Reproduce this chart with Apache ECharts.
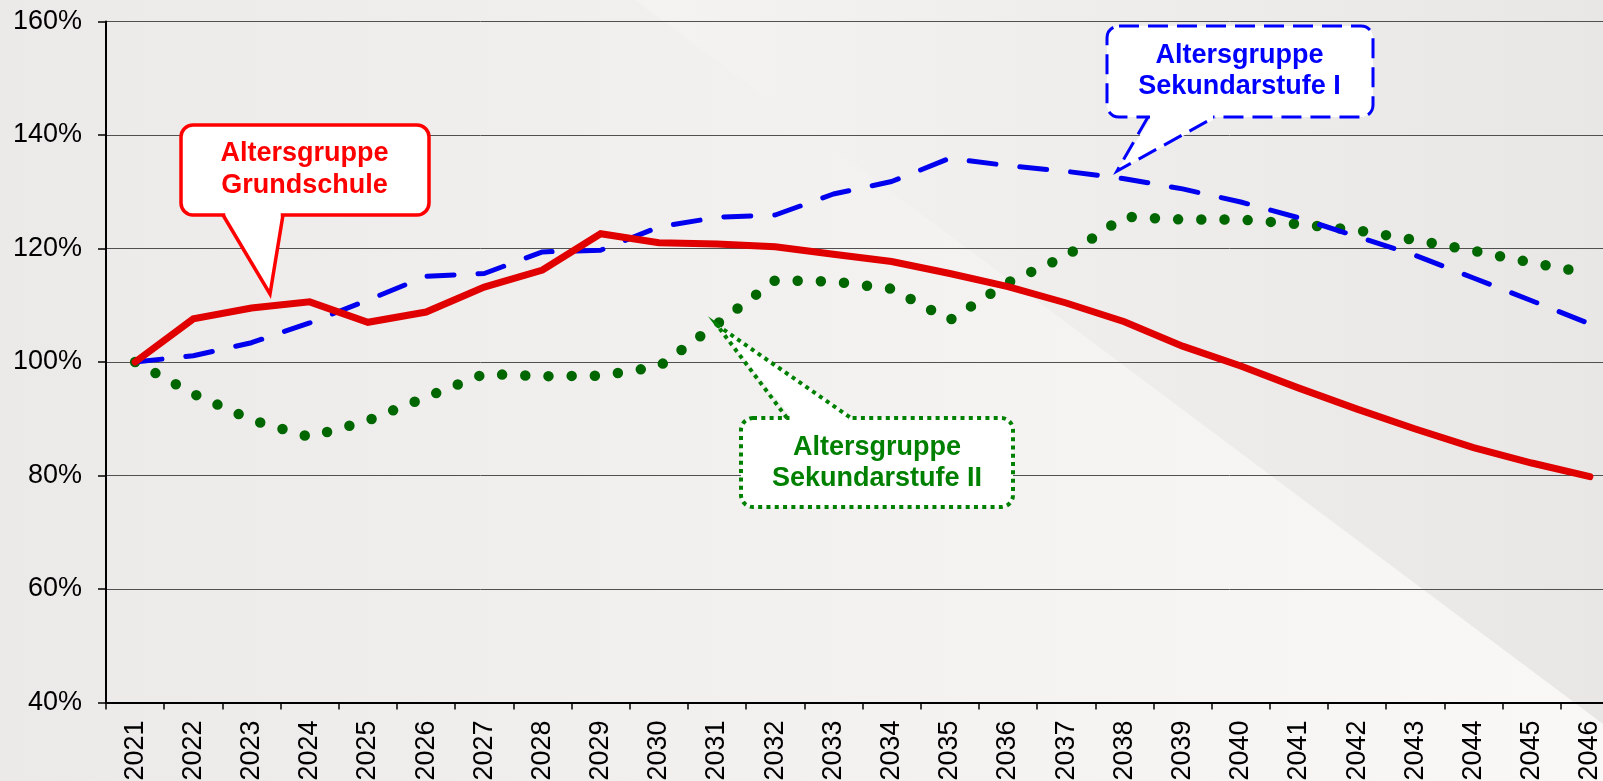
<!DOCTYPE html>
<html>
<head>
<meta charset="utf-8">
<script src="https://cdn.jsdelivr.net/npm/echarts@6/dist/echarts.min.js"></script>
<style>
html, body { margin: 0; padding: 0; background: #ecebea; }
#main { width: 1603px; height: 781px; }
</style>
</head>
<body>
<div id="main"></div>
<script>
// Jahre (Kategorien)
const years = ['2021','2022','2023','2024','2025','2026','2027','2028','2029','2030',
  '2031','2032','2033','2034','2035','2036','2037','2038','2039','2040',
  '2041','2042','2043','2044','2045','2046'];
// Index, 2021 = 100%
const grundschule = [100, 107.6, 109.5, 110.6, 107.0, 108.8, 113.2, 116.2, 122.6, 121.0,
  120.8, 120.3, 119.0, 117.7, 115.6, 113.3, 110.4, 107.1, 102.8, 99.3,
  95.4, 91.7, 88.2, 84.9, 82.2, 79.8];
const sekundarstufe1 = [100, 101.1, 103.4, 106.9, 110.9, 115.1, 115.6, 119.4, 119.7, 123.8,
  125.5, 125.9, 129.6, 131.8, 135.9, 134.6, 133.6, 132.3, 130.5, 128.2,
  125.4, 122.1, 118.8, 114.8, 110.8, 106.7];
const sekundarstufe2 = [100, 94.4, 89.8, 86.8, 89.7, 93.8, 97.9, 97.5, 97.6, 99.2,
  106.7, 114.4, 114.2, 112.9, 107.4, 114.0, 118.7, 125.6, 125.1, 125.1,
  124.3, 123.2, 121.5, 119.6, 117.5, 115.6];
const yTicks = [40, 60, 80, 100, 120, 140, 160];

const FONT = '"Liberation Sans", Arial, sans-serif';

// Sprechblase: Box + Zeiger
function callout(box, base, tip, color, dash, lw, lines, textColor) {
  const els = [];
  els.push({
    type: 'rect', z: 100,
    shape: { x: box[0], y: box[1], width: box[2], height: box[3], r: 12 },
    style: { fill: '#fff', stroke: color, lineWidth: lw, lineDash: dash }
  });
  const up = tip[1] < box[1]; // Zeiger nach oben?
  const ey = up ? box[1] : box[1] + box[3];
  const d = up ? 3 : -3;
  els.push({
    type: 'polygon', z: 101,
    shape: { points: [[base[0] + lw / 2 + 0.5, ey + d], [base[0] + lw / 2 + 0.5, ey - d], tip,
      [base[1] - lw / 2 - 0.5, ey - d], [base[1] - lw / 2 - 0.5, ey + d]] },
    style: { fill: '#fff', stroke: null }
  });
  els.push({
    type: 'polyline', z: 102,
    shape: { points: [[base[0], ey], tip, [base[1], ey]] },
    style: { fill: null, stroke: color, lineWidth: lw, lineDash: dash, lineJoin: 'miter' }
  });
  lines.forEach(function (l) {
    els.push({
      type: 'text', z: 103,
      style: { text: l[0], x: l[1], y: l[2], fill: textColor,
        font: 'bold 27px ' + FONT, textAlign: 'center', textVerticalAlign: 'middle',
        align: 'center', verticalAlign: 'middle' }
    });
  });
  return els;
}

const bg = [
  {
    type: 'rect', z: -10, silent: true,
    shape: { x: 0, y: 0, width: 1603, height: 781 },
    style: { fill: new echarts.graphic.LinearGradient(0, 0, 1, 0, [
      { offset: 0, color: '#ebeae9' },
      { offset: 0.5, color: '#f2f1f0' },
      { offset: 1, color: '#f9f8f7' }
    ]) }
  },
  {
    type: 'polygon', z: -9, silent: true,
    shape: { points: [[635, 0], [1603, 0], [1603, 724]] },
    style: { fill: new echarts.graphic.LinearGradient(0, 0, 1, 0, [
      { offset: 0, color: '#f4f3f2' },
      { offset: 1, color: '#e8e7e6' }
    ]) }
  }
];

const callouts = [].concat(
  callout([181, 125, 248, 90], [223, 283], [270, 294], '#ff0000', null, 3.5,
    [['Altersgruppe', 304.5, 154], ['Grundschule', 304.5, 186]], '#ff0000'),
  callout([1107, 26, 266, 91], [1148, 1215], [1117, 171], '#0000ff', [20, 9], 3,
    [['Altersgruppe', 1239.5, 55.5], ['Sekundarstufe I', 1239.5, 87]], '#0000ff'),
  callout([741, 418, 272, 89], [787, 851], [717, 325], '#008000', [4, 4.3], 4,
    [['Altersgruppe', 877, 447.5], ['Sekundarstufe II', 877, 478.5]], '#008000')
);

const chart = echarts.init(document.getElementById('main'), null, { renderer: 'canvas' });
const option = {
  animation: false,
  backgroundColor: '#ecebea',
  textStyle: { fontFamily: FONT },
  grid: {
    left: 106, top: 21.5, width: 1513, height: 681,
    containLabel: false, outerBoundsMode: 'none'
  },
  xAxis: {
    type: 'category',
    data: years,
    boundaryGap: true,
    axisLine: { show: true, lineStyle: { color: '#000', width: 2 } },
    axisTick: { show: true, length: 7, lineStyle: { color: '#000', width: 1.5 } },
    axisLabel: { interval: 0, rotate: 90, margin: 18, fontSize: 27, color: '#000', fontFamily: FONT },
    splitLine: { show: false }
  },
  yAxis: {
    type: 'value',
    min: yTicks[0], max: yTicks[yTicks.length - 1], interval: 20,
    axisLine: { show: true, lineStyle: { color: '#000', width: 2 } },
    axisTick: { show: true, length: 8, lineStyle: { color: '#000', width: 1.5 } },
    axisLabel: { margin: 24, fontSize: 27, color: '#000', fontFamily: FONT, formatter: '{value}%' },
    splitLine: { show: true, lineStyle: { color: '#505050', width: 1 } }
  },
  series: [
    {
      name: 'Altersgruppe Sekundarstufe II',
      type: 'line',
      data: sekundarstufe2,
      showSymbol: false,
      z: 3,
      lineStyle: { color: '#006600', width: 10.5, type: [0, 23.2], cap: 'round' }
    },
    {
      name: 'Altersgruppe Sekundarstufe I',
      type: 'line',
      data: sekundarstufe1,
      showSymbol: false,
      z: 4,
      lineStyle: { color: '#0000ee', width: 5, type: [27, 24], cap: 'round' }
    },
    {
      name: 'Altersgruppe Grundschule',
      type: 'line',
      data: grundschule,
      showSymbol: false,
      z: 5,
      lineStyle: { color: '#e00000', width: 7, cap: 'round', join: 'miter' }
    }
  ],
  graphic: { elements: bg.concat(callouts) }
};
chart.setOption(option);
</script>
</body>
</html>
